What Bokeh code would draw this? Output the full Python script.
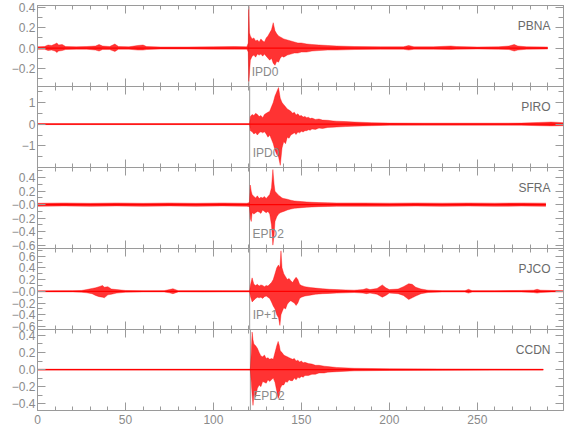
from bokeh.plotting import figure
from bokeh.models import (Range1d, LinearAxis, FixedTicker, Span, Label,
                          ColumnDataSource, CustomJSTickFormatter)
from bokeh.layouts import column
from bokeh.embed import file_html
from bokeh.resources import INLINE

# ---------------- data ----------------
stations = ["PBNA", "PIRO", "SFRA", "PJCO", "CCDN"]
pick_labels = ["IPD0", "IPD0", "EPD2", "IP+1", "EPD2"]
pick_times = [120.1, 120.6, 120.5, 120.6, 121.0]
y_ranges = [(-0.38, 0.42), (-2.0, 1.74), (-0.65, 0.55), (-0.65, 0.73), (-0.48, 0.47)]
x_start, x_end = 0, 299

x_ticks = [0, 50, 100, 150, 200, 250]
x_tick_labels = ["0", "50", "100", "150", "200", "250"]
x_minor = [0, 10, 20, 30, 40, 50, 60, 70, 80, 90, 100, 110, 120, 130, 140, 150,
           160, 170, 180, 190, 200, 210, 220, 230, 240, 250, 260, 270, 280, 290]

pbna_ticks = [-0.2, 0.0, 0.2, 0.4]
pbna_tick_labels = ["\u22120.2", "0.0", "0.2", "0.4"]
pbna_minor = [-0.3, -0.2, -0.1, 0.0, 0.1, 0.2, 0.3, 0.4]
piro_ticks = [-1.0, 0.0, 1.0]
piro_tick_labels = ["\u22121", "0", "1"]
piro_minor = [-2.0, -1.5, -1.0, -0.5, 0.0, 0.5, 1.0, 1.5]
sfra_ticks = [-0.6, -0.4, -0.2, 0.0, 0.2, 0.4]
sfra_tick_labels = ["\u22120.6", "\u22120.4", "\u22120.2", "\u22120.0", "0.2", "0.4"]
sfra_minor = [-0.6, -0.5, -0.4, -0.3, -0.2, -0.1, 0.0, 0.1, 0.2, 0.3, 0.4, 0.5]
pjco_ticks = [-0.6, -0.4, -0.2, 0.0, 0.2, 0.4, 0.6]
pjco_tick_labels = ["\u22120.6", "\u22120.4", "\u22120.2", "\u22120.0", "0.2", "0.4", "0.6"]
pjco_minor = [-0.6, -0.5, -0.4, -0.3, -0.2, -0.1, 0.0, 0.1, 0.2, 0.3, 0.4, 0.5, 0.6, 0.7]
ccdn_ticks = [-0.4, -0.2, 0.0, 0.2, 0.4]
ccdn_tick_labels = ["\u22120.4", "\u22120.2", "0.0", "0.2", "0.4"]
ccdn_minor = [-0.4, -0.3, -0.2, -0.1, 0.0, 0.1, 0.2, 0.3, 0.4]

# trace envelopes (time s, upper, lower)
pbna_t = [0, 4, 6, 8, 10, 11, 12, 14, 16, 22,
          28, 33, 35, 37, 41, 44, 46, 52, 57, 60,
          62, 70, 85, 100, 112, 119, 119.8, 120.1, 120.5, 121,
          122, 123, 124, 125, 126, 127, 128, 129, 130, 131,
          132, 133, 134, 135, 136, 137, 138, 139, 140,
          142, 144, 146, 148, 150, 153, 156, 160, 165, 170,
          180, 195, 208, 211, 214, 225, 235, 238, 250, 262,
          268, 271, 273, 278, 290]
pbna_up = [0.012, 0.015, 0.03, 0.025, 0.04, 0.05, 0.03, 0.035, 0.015, 0.012,
           0.015, 0.02, 0.035, 0.02, 0.015, 0.04, 0.015, 0.012, 0.025, 0.03,
           0.015, 0.01, 0.01, 0.012, 0.015, 0.012, 0.05, 0.41, 0.15, 0.12,
           0.09, 0.1, 0.07, 0.08, 0.06, 0.09, 0.07, 0.06, 0.1, 0.12,
           0.15, 0.18, 0.25, 0.17, 0.14, 0.12, 0.11, 0.1, 0.09,
           0.08, 0.07, 0.06, 0.05, 0.05, 0.04, 0.035, 0.03, 0.025, 0.02,
           0.015, 0.012, 0.012, 0.025, 0.012, 0.012, 0.02, 0.015, 0.01, 0.012,
           0.02, 0.035, 0.02, 0.012, 0.01]
pbna_lo = [-0.012, -0.012, -0.025, -0.02, -0.03, -0.045, -0.03, -0.025, -0.015, -0.012,
           -0.012, -0.02, -0.03, -0.015, -0.015, -0.035, -0.012, -0.012, -0.02, -0.02,
           -0.015, -0.01, -0.01, -0.012, -0.012, -0.012, -0.04, -0.33, -0.25, -0.12,
           -0.08, -0.07, -0.09, -0.06, -0.07, -0.06, -0.08, -0.06, -0.08, -0.1,
           -0.12, -0.1, -0.15, -0.17, -0.13, -0.14, -0.1, -0.08, -0.09,
           -0.07, -0.06, -0.05, -0.05, -0.04, -0.04, -0.03, -0.025, -0.02, -0.02,
           -0.015, -0.012, -0.012, -0.02, -0.012, -0.012, -0.015, -0.012, -0.01, -0.012,
           -0.015, -0.03, -0.02, -0.012, -0.01]

piro_t = [0, 30, 60, 90, 120.6,
          121, 122, 123, 124, 125, 126, 127, 128, 129, 130,
          131, 132, 133, 134, 135, 136, 137, 138, 139, 140,
          141, 142, 143, 144,
          145, 146, 147, 148, 149, 150, 151, 152, 153, 154,
          155, 156, 158, 160, 162, 165, 168, 170, 175, 180,
          190, 200, 220, 240, 260, 275, 285, 292, 299]
piro_up = [0.02, 0.02, 0.02, 0.02, 0.02,
           0.35, 0.45, 0.4, 0.5, 0.45, 0.35, 0.4, 0.3, 0.45, 0.5,
           0.55, 0.6, 0.8, 1.0, 1.3, 1.5, 1.69, 1.2, 1.0, 0.9,
           0.8, 0.7, 0.65, 0.6,
           0.5, 0.55, 0.42, 0.48, 0.38, 0.4, 0.33, 0.36, 0.3, 0.32,
           0.26, 0.28, 0.22, 0.24, 0.19, 0.18, 0.15, 0.14, 0.12, 0.1,
           0.07, 0.05, 0.045, 0.045, 0.045, 0.05, 0.08, 0.1, 0.07]
piro_lo = [-0.02, -0.02, -0.02, -0.02, -0.02,
           -0.3, -0.35, -0.45, -0.4, -0.5, -0.4, -0.35, -0.4, -0.35, -0.45,
           -0.6, -0.5, -0.7, -0.9, -1.2, -1.4, -1.5, -1.9, -1.1, -0.8,
           -0.9, -0.6, -0.65, -0.5,
           -0.45, -0.4, -0.48, -0.36, -0.4, -0.33, -0.36, -0.3, -0.3, -0.26,
           -0.28, -0.22, -0.24, -0.18, -0.2, -0.15, -0.14, -0.13, -0.11, -0.09,
           -0.07, -0.05, -0.045, -0.045, -0.045, -0.05, -0.07, -0.08, -0.07]

sfra_t = [0, 15, 30, 45, 60, 75, 90, 105, 119, 120.5,
          121, 121.5, 122, 123, 124, 125, 126, 127, 128, 129,
          130, 131, 132, 133, 133.8, 134.5, 135, 136, 137, 138,
          139, 140, 142, 144, 146, 148, 150, 153, 156, 160,
          165, 170, 185, 200, 215, 230, 245, 260, 275, 289]
sfra_up = [0.02, 0.025, 0.02, 0.025, 0.02, 0.025, 0.02, 0.025, 0.02, 0.03,
           0.29, 0.2, 0.15, 0.12, 0.1, 0.13, 0.09, 0.11, 0.1, 0.12,
           0.09, 0.12, 0.15, 0.25, 0.52, 0.3, 0.2, 0.17, 0.14, 0.12,
           0.1, 0.09, 0.08, 0.065, 0.055, 0.05, 0.045, 0.04, 0.035, 0.03,
           0.028, 0.025, 0.025, 0.022, 0.025, 0.022, 0.025, 0.022, 0.025, 0.022]
sfra_lo = [-0.025, -0.02, -0.025, -0.02, -0.025, -0.02, -0.025, -0.02, -0.025, -0.03,
           -0.21, -0.25, -0.12, -0.14, -0.12, -0.1, -0.11, -0.13, -0.08, -0.1,
           -0.12, -0.1, -0.14, -0.3, -0.6, -0.45, -0.25, -0.18, -0.14, -0.12,
           -0.11, -0.1, -0.08, -0.065, -0.055, -0.05, -0.045, -0.04, -0.035, -0.03,
           -0.028, -0.025, -0.025, -0.025, -0.022, -0.025, -0.022, -0.025, -0.022, -0.025]

pjco_t = [0, 10, 20, 25, 28, 31, 33, 35, 37, 38,
          40, 42, 45, 50, 60, 72, 75, 77, 80, 95,
          105, 119, 120.6, 121, 122, 123, 124, 125, 126, 127,
          128, 129, 130, 131, 132, 133, 134, 135, 136, 137,
          137.8, 138.4, 139, 140, 141, 142, 143, 144, 145, 146,
          147, 148, 149, 150, 152, 155, 158, 162, 166, 170,
          175, 180, 185, 187, 189, 193, 196, 198, 200, 205,
          208, 211, 213, 215, 218, 222, 230, 243, 245, 247,
          260, 275, 282, 284, 286, 292, 299]
pjco_up = [0.008, 0.01, 0.012, 0.015, 0.03, 0.05, 0.06, 0.08, 0.1, 0.07,
           0.08, 0.04, 0.03, 0.015, 0.01, 0.012, 0.03, 0.045, 0.012, 0.012,
           0.012, 0.01, 0.01, 0.1, 0.23, 0.12, 0.1, 0.12, 0.09, 0.11,
           0.1, 0.08, 0.1, 0.09, 0.12, 0.15, 0.2, 0.3, 0.4, 0.45,
           0.4, 0.69, 0.4, 0.3, 0.25, 0.2, 0.22, 0.18, 0.15, 0.2,
           0.24, 0.2, 0.12, 0.1, 0.08, 0.065, 0.055, 0.045, 0.035, 0.03,
           0.025, 0.02, 0.03, 0.05, 0.03, 0.05, 0.11, 0.06, 0.03, 0.04,
           0.08, 0.13, 0.12, 0.07, 0.04, 0.02, 0.012, 0.012, 0.035, 0.012,
           0.012, 0.015, 0.02, 0.035, 0.02, 0.015, 0.01]
pjco_lo = [-0.008, -0.01, -0.01, -0.015, -0.025, -0.04, -0.07, -0.09, -0.1, -0.11,
           -0.06, -0.05, -0.03, -0.015, -0.01, -0.01, -0.025, -0.04, -0.01, -0.012,
           -0.01, -0.01, -0.01, -0.08, -0.18, -0.15, -0.12, -0.1, -0.11, -0.1,
           -0.12, -0.09, -0.08, -0.1, -0.12, -0.18, -0.25, -0.3, -0.4, -0.45,
           -0.58, -0.4, -0.35, -0.28, -0.3, -0.22, -0.18, -0.16, -0.18, -0.2,
           -0.24, -0.2, -0.12, -0.1, -0.08, -0.065, -0.05, -0.04, -0.035, -0.03,
           -0.025, -0.02, -0.03, -0.04, -0.03, -0.05, -0.1, -0.07, -0.03, -0.04,
           -0.07, -0.14, -0.11, -0.08, -0.04, -0.02, -0.012, -0.012, -0.03, -0.012,
           -0.012, -0.012, -0.02, -0.03, -0.02, -0.012, -0.01]

ccdn_t = [0, 60, 121, 121.5, 122, 122.5, 123, 124, 125, 126,
          127, 128, 129, 130, 131, 132, 133, 134, 135, 136,
          136.8, 137.5, 138, 139, 140, 141, 142, 143, 144,
          145, 146, 147, 148, 149, 150, 151, 152, 154, 156,
          158, 160, 163, 165,
          170, 180, 200, 230, 260, 287.5]
ccdn_up = [0.005, 0.005, 0.005, 0.2, 0.44, 0.35, 0.3, 0.28, 0.25, 0.2,
           0.16, 0.15, 0.17, 0.13, 0.14, 0.12, 0.13, 0.12, 0.2, 0.28,
           0.33, 0.28, 0.22, 0.2, 0.17, 0.16, 0.15, 0.14, 0.13,
           0.12, 0.13, 0.1, 0.11, 0.09, 0.1, 0.08, 0.085, 0.07, 0.065,
           0.05, 0.05, 0.04, 0.035,
           0.025, 0.015, 0.01, 0.008, 0.006, 0.005]
ccdn_lo = [-0.005, -0.005, -0.005, -0.15, -0.3, -0.42, -0.3, -0.32, -0.22, -0.18,
           -0.2, -0.14, -0.15, -0.16, -0.12, -0.14, -0.12, -0.1, -0.15, -0.25,
           -0.34, -0.3, -0.22, -0.18, -0.18, -0.14, -0.15, -0.12, -0.13,
           -0.13, -0.1, -0.12, -0.09, -0.1, -0.08, -0.09, -0.07, -0.07, -0.055,
           -0.055, -0.04, -0.04, -0.03,
           -0.025, -0.015, -0.01, -0.008, -0.006, -0.005]

traces = [(pbna_t, pbna_up, pbna_lo), (piro_t, piro_up, piro_lo),
          (sfra_t, sfra_up, sfra_lo), (pjco_t, pjco_up, pjco_lo),
          (ccdn_t, ccdn_up, ccdn_lo)]
y_tick_sets = [(pbna_ticks, pbna_tick_labels, pbna_minor),
               (piro_ticks, piro_tick_labels, piro_minor),
               (sfra_ticks, sfra_tick_labels, sfra_minor),
               (pjco_ticks, pjco_tick_labels, pjco_minor),
               (ccdn_ticks, ccdn_tick_labels, ccdn_minor)]

# ---------------- style ----------------
FONT = "Liberation Sans"
AXC = "#9a9a9a"
TXT = "#8a8a8a"
STC = "#6a6a6a"
RED = "#ff0000"


def style_axis(ax, major_in, minor_in):
    ax.axis_line_color = AXC
    ax.major_tick_line_color = AXC
    ax.minor_tick_line_color = AXC
    ax.major_tick_in = major_in
    ax.major_tick_out = 0
    ax.minor_tick_in = minor_in
    ax.minor_tick_out = 0
    ax.major_label_text_font = FONT
    ax.major_label_text_font_size = "12px"
    ax.major_label_text_color = TXT
    ax.major_label_standoff = 2


def blank(ax):
    ax.formatter = CustomJSTickFormatter(code="return ''")
    ax.major_label_text_font_size = "0px"
    ax.major_label_standoff = 0


figs = []
n = len(stations)
for i in range(n):
    lo_r, hi_r = y_ranges[i]
    last = i == n - 1
    p = figure(frame_width=526, frame_height=81,
               x_range=Range1d(x_start, x_end), y_range=Range1d(lo_r, hi_r),
               output_backend="svg", toolbar_location=None,
               x_axis_location=None, y_axis_location=None,
               min_border_left=37, min_border_right=8, min_border_top=6,
               min_border_bottom=20 if last else 6,
               background_fill_color=None, border_fill_color=None,
               outline_line_color=AXC)
    p.xgrid.grid_line_color = None
    p.ygrid.grid_line_color = None
    p.margin = (-1, 0, 0, 0) if i == 0 else (-12, 0, 0, 0)

    yt, ylab, ym = y_tick_sets[i]
    yl = LinearAxis(ticker=FixedTicker(ticks=yt, minor_ticks=ym),
                    major_label_overrides=dict(zip(yt, ylab)))
    style_axis(yl, 8, 5)
    p.add_layout(yl, "left")

    yr = LinearAxis(ticker=FixedTicker(ticks=yt, minor_ticks=ym))
    style_axis(yr, 8, 5)
    blank(yr)
    p.add_layout(yr, "right")

    xa = LinearAxis(ticker=FixedTicker(ticks=x_ticks, minor_ticks=x_minor))
    style_axis(xa, 8, 4)
    blank(xa)
    p.add_layout(xa, "above")

    xb = LinearAxis(ticker=FixedTicker(ticks=x_ticks, minor_ticks=x_minor))
    style_axis(xb, 8, 4)
    if last:
        xb.major_label_overrides = dict(zip(x_ticks, x_tick_labels))
        xb.major_label_standoff = 4
    else:
        blank(xb)
    p.add_layout(xb, "below")

    p.add_layout(Span(location=pick_times[i], dimension="height",
                      line_color=AXC, line_width=1, level="underlay"))

    t, up, lo = traces[i]
    src = ColumnDataSource(dict(t=t, up=up, lo=lo))
    p.varea(x="t", y1="lo", y2="up", source=src, fill_color=RED, fill_alpha=0.8)
    p.line("t", "up", source=src, line_color=RED, line_width=0.6, line_alpha=0.6)
    p.line("t", "lo", source=src, line_color=RED, line_width=0.6, line_alpha=0.6)
    p.line(x=[t[0], t[-1]], y=[0.0, 0.0], line_color=RED, line_width=1.2)

    p.add_layout(Label(x=pick_times[i], y=lo_r + 0.18 * (hi_r - lo_r), x_offset=3,
                       text=pick_labels[i], text_font=FONT, text_font_size="12px",
                       text_color=TXT, text_baseline="middle", text_align="left"))
    p.add_layout(Label(x=x_end, y=hi_r - 0.25 * (hi_r - lo_r), x_offset=-13,
                       text=stations[i], text_font=FONT, text_font_size="12px",
                       text_color=STC, text_baseline="middle", text_align="right"))
    figs.append(p)

layout = column(*figs)
open("out.html", "w").write(file_html(layout, INLINE))
